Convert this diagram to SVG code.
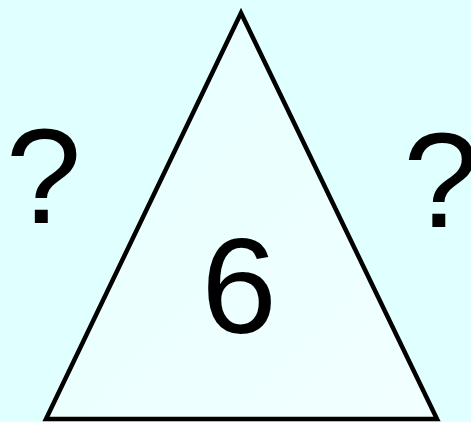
<svg xmlns="http://www.w3.org/2000/svg" width="471" height="422" viewBox="0 0 471 422">
<defs>
<linearGradient id="tri" x1="0" y1="0" x2="1" y2="1">
<stop offset="0" stop-color="#e6ffff"/>
<stop offset="1" stop-color="#f2ffff"/>
</linearGradient>
</defs>
<style>
.t{font-family:"Liberation Sans",Arial,sans-serif;font-size:136px;fill:#000;text-anchor:middle}
</style>
<rect width="471" height="422" fill="#e0ffff"/>
<g id="triangle">
<polygon points="241,13 46,419 437,419" fill="url(#tri)" stroke="#000" stroke-width="4.5" stroke-linejoin="miter"/>
<text class="t" x="239" y="333">6</text>
</g>
<g id="left-label"><text class="t" x="43.5" y="223">?</text></g>
<g id="right-label"><text class="t" x="441" y="227">?</text></g>
<g id="connectors"/>
</svg>
